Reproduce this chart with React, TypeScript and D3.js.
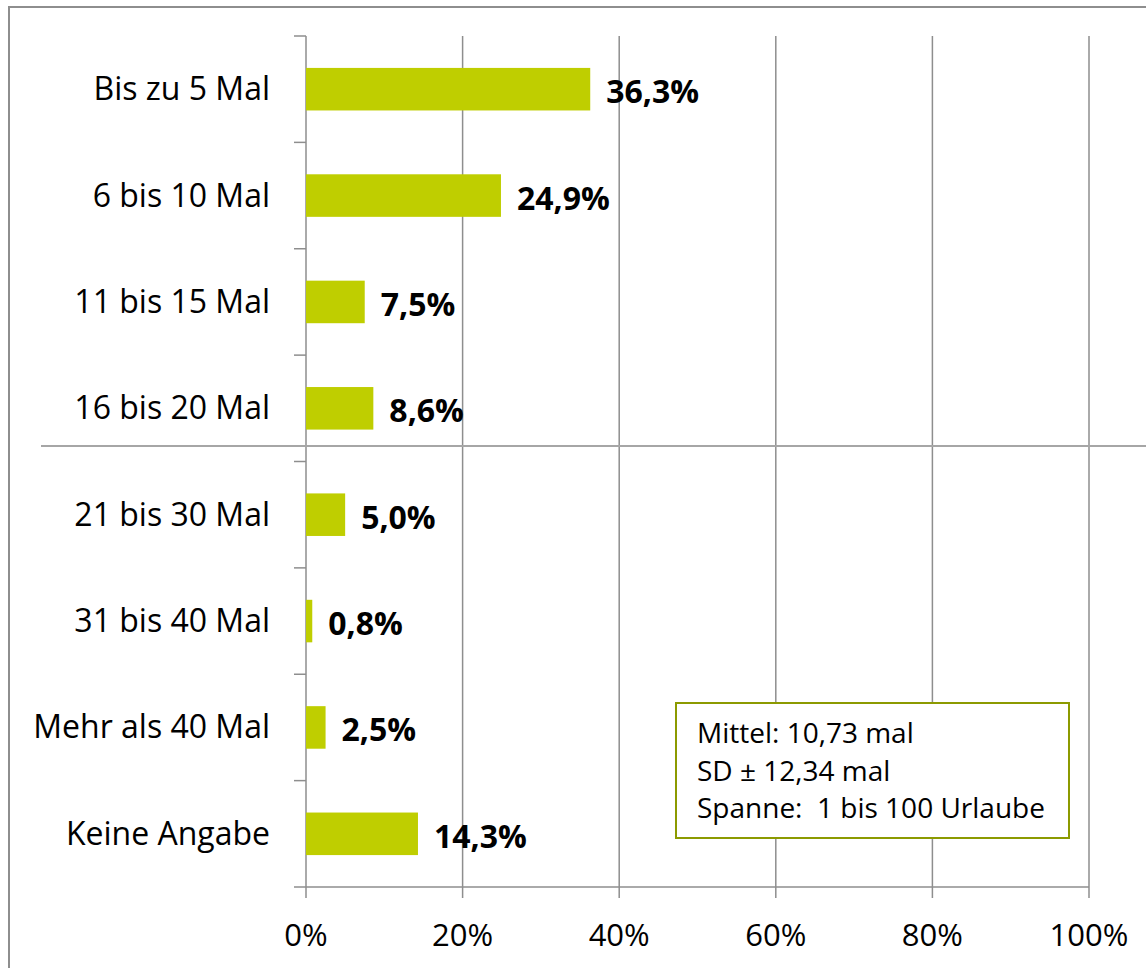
import React from "react";
import * as d3 from "d3";

const categories = [
  "Bis zu 5 Mal",
  "6 bis 10 Mal",
  "11 bis 15 Mal",
  "16 bis 20 Mal",
  "21 bis 30 Mal",
  "31 bis 40 Mal",
  "Mehr als 40 Mal",
  "Keine Angabe",
];
const values = [36.3, 24.9, 7.5, 8.6, 5.0, 0.8, 2.5, 14.3];
const xTicks = [0, 20, 40, 60, 80, 100];
const noteLines = ["Mittel: 10,73 mal", "SD ± 12,34 mal", "Spanne:  1 bis 100 Urlaube"];

const font = "'Open Sans', sans-serif";
const gridColor = "#8e8e8e";
const barColor = "#bfce00";

const App = () => {
  const width = 1146;
  const height = 968;
  const margins = { top: 36, right: 57, bottom: 81, left: 306 };

  const xScale = d3
    .scaleLinear()
    .domain([0, 100])
    .range([margins.left, width - margins.right]);

  const yScale = d3
    .scaleBand()
    .domain(categories)
    .range([margins.top, height - margins.bottom])
    .paddingInner(0.6)
    .paddingOuter(0.3);

  const step = yScale.step();
  const bandTop = (c) => yScale(c) - yScale.paddingInner() * step / 2;
  const plotBottom = height - margins.bottom;
  const fmt = (v) => v.toFixed(1).replace(".", ",") + "%";

  return (
    <svg
      width={width}
      height={height}
      style={{ position: "absolute", left: 0, top: 0, background: "#fff" }}
    >
      {/* outer frame */}
      <rect x={9} y={7} width={1160} height={990} fill="none" stroke={gridColor} strokeWidth={2} />

      {/* vertical gridlines */}
      {xTicks.slice(1).map((t) => (
        <line
          key={t}
          x1={xScale(t)}
          x2={xScale(t)}
          y1={margins.top}
          y2={plotBottom + 11}
          stroke={gridColor}
          strokeWidth={1.5}
        />
      ))}

      {/* y axis */}
      <line x1={xScale(0)} x2={xScale(0)} y1={margins.top} y2={plotBottom + 11} stroke={gridColor} strokeWidth={1.5} />
      {categories.map((c) => (
        <line key={c} x1={xScale(0) - 12} x2={xScale(0)} y1={bandTop(c)} y2={bandTop(c)} stroke={gridColor} strokeWidth={1.5} />
      ))}
      <line x1={xScale(0) - 12} x2={xScale(100)} y1={plotBottom} y2={plotBottom} stroke={gridColor} strokeWidth={1.5} />

      {/* stray horizontal separator */}
      <line x1={41} x2={width} y1={446} y2={446} stroke="#a6a6a6" strokeWidth={2} />

      {/* bars */}
      {categories.map((c, i) => (
        <rect
          key={c}
          x={xScale(0)}
          y={yScale(c)}
          width={xScale(values[i]) - xScale(0)}
          height={yScale.bandwidth()}
          fill={barColor}
        />
      ))}

      {/* value labels */}
      {categories.map((c, i) => (
        <text
          key={c}
          x={xScale(values[i]) + 16}
          y={yScale(c) + yScale.bandwidth() / 2 + 14}
          fontFamily={font}
          fontSize={32}
          fontWeight="bold"
          fill="#000"
        >
          {fmt(values[i])}
        </text>
      ))}

      {/* category labels */}
      {categories.map((c) => (
        <text
          key={c}
          x={270}
          y={yScale(c) + yScale.bandwidth() / 2 + 11}
          textAnchor="end"
          fontFamily={font}
          fontSize={32}
          fill="#000"
        >
          {c}
        </text>
      ))}

      {/* x tick labels */}
      {xTicks.map((t) => (
        <text
          key={t}
          x={xScale(t)}
          y={plotBottom + 59}
          textAnchor="middle"
          fontFamily={font}
          fontSize={31}
          fill="#000"
        >
          {t}%
        </text>
      ))}

      {/* statistics note */}
      <rect x={676} y={703} width={393} height={135} fill="#fff" stroke="#8c9a00" strokeWidth={2} />
      {noteLines.map((l, i) => (
        <text key={l} x={697} y={743 + i * 37.5} fontFamily={font} fontSize={28} fill="#000" style={{ whiteSpace: "pre" }}>
          {l}
        </text>
      ))}
    </svg>
  );
};

export default App;
